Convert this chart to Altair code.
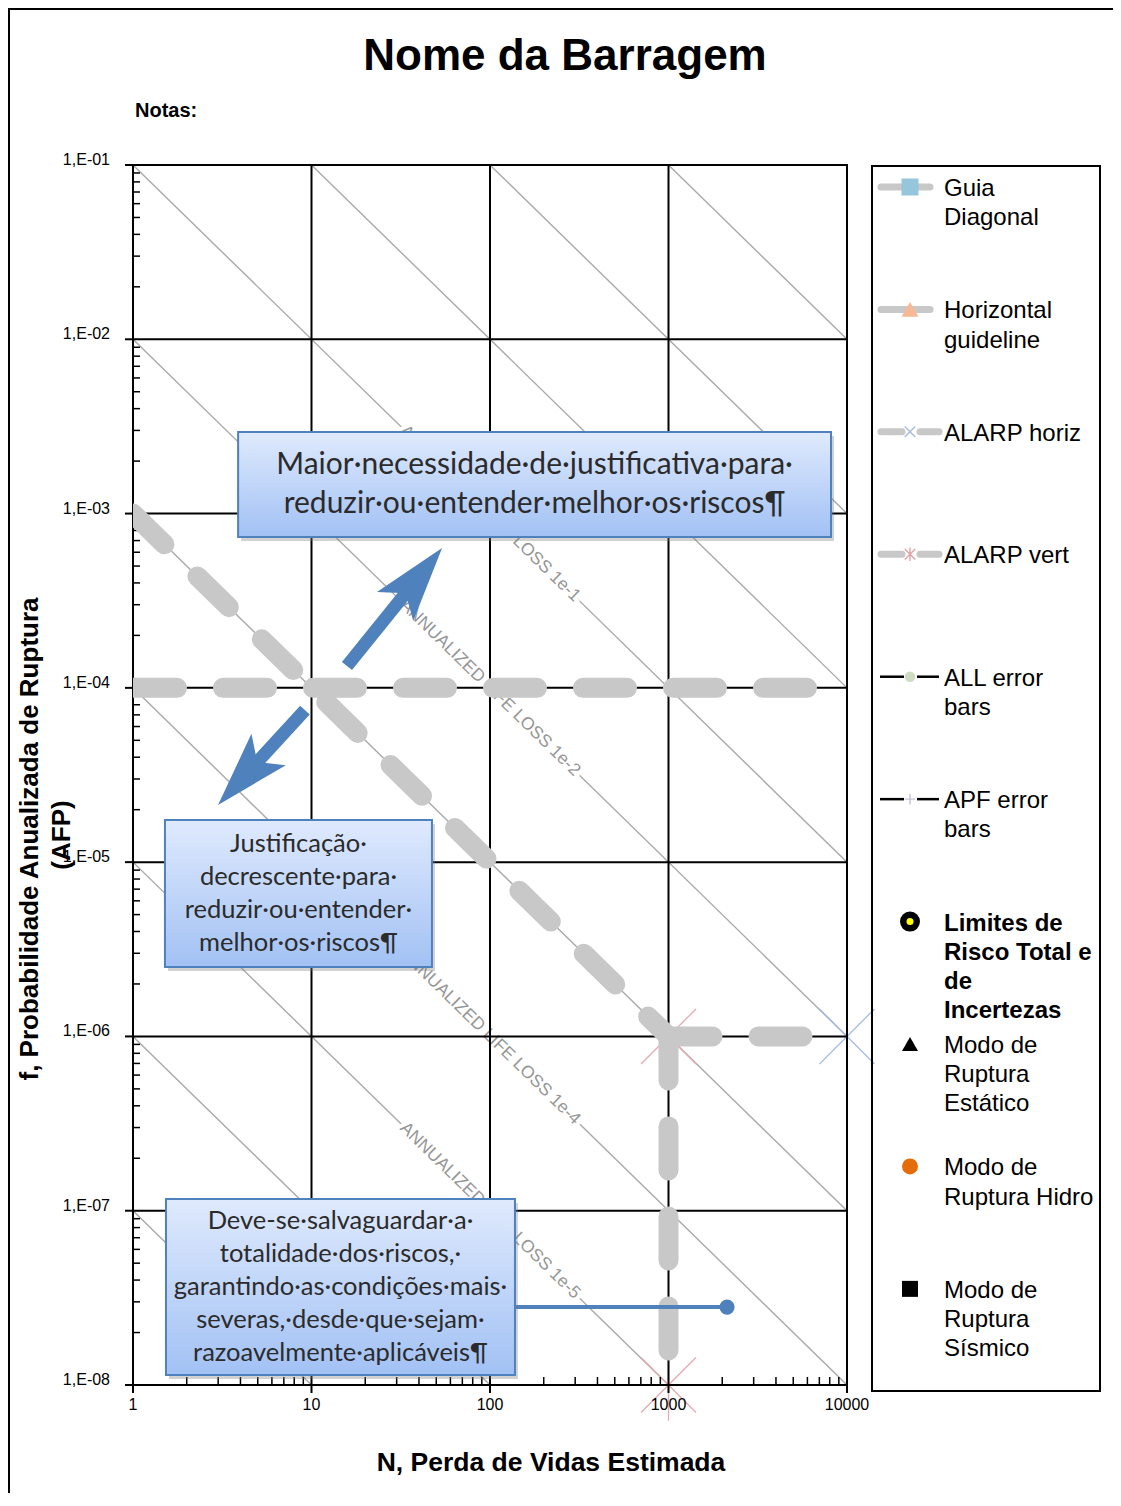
import altair as alt
import pandas as pd

W, H = 714, 1220

# ---------------- data ----------------
x_ticks = [1, 10, 100, 1000, 10000]
x_tick_labels = ["1", "10", "100", "1000", "10000"]
y_ticks = [1e-1, 1e-2, 1e-3, 1e-4, 1e-5, 1e-6, 1e-7, 1e-8]
y_tick_labels = ["1,E-01", "1,E-02", "1,E-03", "1,E-04", "1,E-05", "1,E-06", "1,E-07", "1,E-08"]
minor_mult = [2, 3, 4, 5, 6, 7, 8, 9]
x_decades = [1, 10, 100, 1000]
y_decades = [1e-8, 1e-7, 1e-6, 1e-5, 1e-4, 1e-3, 1e-2]

# iso-risk diagonals  f = C / N
diag_C = [1e2, 1e1, 1e0, 1e-1, 1e-2, 1e-3, 1e-4, 1e-5, 1e-6, 1e-7]
label_C = [1e-1, 1e-2, 1e-4, 1e-5]
label_N = [100, 100, 100, 100]
label_text = ["ANNUALIZED LIFE LOSS 1e-1", "ANNUALIZED LIFE LOSS 1e-2",
              "ANNUALIZED LIFE LOSS 1e-4", "ANNUALIZED LIFE LOSS 1e-5"]

# gray dashed guidelines (start / end)
guide_name = ["ALARP diagonal", "Horizontal guideline", "ALARP horiz", "ALARP vert"]
guide_N1 = [1, 1, 1000, 1000]
guide_f1 = [1e-3, 1e-4, 1e-6, 1e-6]
guide_N2 = [1000, 10000, 10000, 1000]
guide_f2 = [1e-6, 1e-4, 1e-6, 1e-8]

# ALARP markers
marker_N = [1000, 10000, 1000]
marker_f = [1e-6, 1e-6, 1e-8]
marker_kind = ["vert", "horiz", "vert"]

# annotation boxes
box_N1 = [3.88, 1.51, 1.53]
box_N2 = [8137, 47.3, 138]
box_f1 = [2.94e-3, 1.745e-5, 1.168e-7]
box_f2 = [7.34e-4, 2.5e-6, 1.141e-8]
box_lines = [
    ["Maior\u00b7necessidade\u00b7de\u00b7justificativa\u00b7para\u00b7",
     "reduzir\u00b7ou\u00b7entender\u00b7melhor\u00b7os\u00b7riscos\u00b6"],
    ["Justifica\u00e7\u00e3o\u00b7", "decrescente\u00b7para\u00b7",
     "reduzir\u00b7ou\u00b7entender\u00b7", "melhor\u00b7os\u00b7riscos\u00b6"],
    ["Deve-se\u00b7salvaguardar\u00b7a\u00b7", "totalidade\u00b7dos\u00b7riscos,\u00b7",
     "garantindo\u00b7as\u00b7condi\u00e7\u00f5es\u00b7mais\u00b7",
     "severas,\u00b7desde\u00b7que\u00b7sejam\u00b7", "razoavelmente\u00b7aplic\u00e1veis\u00b6"],
]
box_font = [30, 25.5, 25.5]
box_lh = [39, 33, 33]

# arrows
arrow_tail_N = [15.8, 9.19]
arrow_tail_f = [1.335e-4, 7.46e-5]
arrow_head_N = [39.8, 4.15]
arrow_head_f = [4.31e-4, 3.07e-5]
arrow_angle = [38.8, 222.4]

# connector line with dot
conn_N = [138, 2128]
conn_f = [2.8e-8, 2.8e-8]

# legend
legend_labels = [["Guia", "Diagonal"], ["Horizontal", "guideline"], ["ALARP horiz"],
                 ["ALARP vert"], ["ALL error", "bars"], ["APF error", "bars"],
                 ["Limites de", "Risco Total e", "de", "Incertezas"],
                 ["Modo de", "Ruptura", "Est\u00e1tico"], ["Modo de", "Ruptura Hidro"],
                 ["Modo de", "Ruptura", "S\u00edsmico"]]
legend_bold = [False, False, False, False, False, False, True, False, False, False]

X_PATH = "M-1,-1L1,1M-1,1L1,-1"
AST_PATH = "M-1,-1L1,1M-1,1L1,-1M0,-1.3L0,1.3"
PLUS_PATH = "M-1,0L1,0M0,-1L0,1"
ARROW_PATH = "M0,-1L0.62,1L0,0.55L-0.62,1Z"

# ---------------- helpers ----------------
xs = alt.Scale(type="log", domain=[1, 10000], nice=False)
ys = alt.Scale(type="log", domain=[1e-8, 1e-1], nice=False)


def X(f):
    return alt.X(f, type="quantitative", scale=xs, axis=None)


def Y(f):
    return alt.Y(f, type="quantitative", scale=ys, axis=None)


one = pd.DataFrame({"a": [0]})
BLUE = "#4f81bd"
GRAY = "#c8c8c8"
FONT = "Liberation Sans"

# ---------------- main plot layers ----------------
diag_df = pd.DataFrame({
    "C": diag_C,
    "N1": [max(1.0, c / 1e-1) for c in diag_C],
    "N2": [min(1e4, c / 1e-8) for c in diag_C],
})
diag_df["f1"] = diag_df["C"] / diag_df["N1"]
diag_df["f2"] = diag_df["C"] / diag_df["N2"]
diagonals = alt.Chart(diag_df).mark_rule(color="#a9a9a9", strokeWidth=1.4, clip=True).encode(
    x=X("N1"), y=Y("f1"), x2="N2", y2="f2")

lab_df = pd.DataFrame({"N": label_N, "f": [c / n for c, n in zip(label_C, label_N)], "t": label_text})
lab_halo = alt.Chart(lab_df).mark_text(angle=44.3, font=FONT, fontSize=17.5,
                                       fill="white", stroke="white", strokeWidth=8).encode(
    x=X("N"), y=Y("f"), text="t:N")
lab_txt = alt.Chart(lab_df).mark_text(angle=44.3, font=FONT, fontSize=17.5,
                                      color="#969696").encode(x=X("N"), y=Y("f"), text="t:N")

mk_df = pd.DataFrame({"N": marker_N, "f": marker_f, "kind": marker_kind})
mk_df["shape"] = mk_df["kind"].map({"vert": AST_PATH, "horiz": X_PATH})
mk_df["col"] = mk_df["kind"].map({"vert": "#e4aab0", "horiz": "#a7bce6"})
alarp_marks = alt.Chart(mk_df).mark_point(size=3025, strokeWidth=1.3, fill="transparent", opacity=1).encode(
    x=X("N"), y=Y("f"), shape=alt.Shape("shape:N", scale=None), stroke=alt.Stroke("col:N", scale=None))

xt_df = pd.DataFrame({"N": x_ticks, "lab": x_tick_labels})
yt_df = pd.DataFrame({"f": y_ticks, "lab": y_tick_labels})
vgrid = alt.Chart(xt_df).mark_rule(color="black", strokeWidth=2).encode(x=X("N"))
hgrid = alt.Chart(yt_df).mark_rule(color="black", strokeWidth=2).encode(y=Y("f"))
xmajor = alt.Chart(xt_df).mark_rule(color="black", strokeWidth=2).encode(
    x=X("N"), y=alt.value(H), y2=alt.value(H + 8))
ymajor = alt.Chart(yt_df).mark_rule(color="black", strokeWidth=2).encode(
    y=Y("f"), x=alt.value(-8), x2=alt.value(0))
xlabels = alt.Chart(xt_df).mark_text(font=FONT, fontSize=16, color="black", align="center",
                                     baseline="middle").encode(x=X("N"), y=alt.value(H + 20), text="lab:N")
ylabels = alt.Chart(yt_df).mark_text(font=FONT, fontSize=16, color="black", align="right",
                                     baseline="middle", dy=-5).encode(y=Y("f"), x=alt.value(-23), text="lab:N")

xminor = alt.Chart(pd.DataFrame({"N": [m * d for d in x_decades for m in minor_mult]})).mark_rule(
    color="black", strokeWidth=1.5).encode(x=X("N"), y=alt.value(H), y2=alt.value(H - 8))
yminor = alt.Chart(pd.DataFrame({"f": [m * d for d in y_decades for m in minor_mult]})).mark_rule(
    color="black", strokeWidth=1.5).encode(y=Y("f"), x=alt.value(0), x2=alt.value(7))

guide_df = pd.DataFrame({"name": guide_name, "N1": guide_N1, "f1": guide_f1, "N2": guide_N2, "f2": guide_f2})
guides = alt.Chart(guide_df).mark_rule(color=GRAY, strokeWidth=20, strokeCap="round",
                                       strokeDash=[44, 46], clip=True).encode(
    x=X("N1"), y=Y("f1"), x2="N2", y2="f2")

box_df = pd.DataFrame({"N1": box_N1, "N2": box_N2, "f1": box_f1, "f2": box_f2})
box_df["cx"] = (box_df["N1"] * box_df["N2"]) ** 0.5
box_df["cy"] = (box_df["f1"] * box_df["f2"]) ** 0.5
shadow = alt.Chart(box_df).mark_rect(color="#7f7f7f", opacity=0.35, xOffset=3, x2Offset=3,
                                     yOffset=4, y2Offset=4).encode(x=X("N1"), x2="N2", y=Y("f1"), y2="f2")
grad = {"gradient": "linear", "x1": 0, "x2": 0, "y1": 0, "y2": 1,
        "stops": [{"offset": 0, "color": "#dfeafd"}, {"offset": 1, "color": "#a2c1f4"}]}
boxes = alt.Chart(box_df).mark_rect(fill=grad, stroke=BLUE, strokeWidth=2).encode(
    x=X("N1"), x2="N2", y=Y("f1"), y2="f2")
box_texts = []
for i in range(len(box_lines)):
    n = len(box_lines[i])
    box_texts.append(
        alt.Chart(box_df.iloc[[i]]).mark_text(font="Lato", fontSize=box_font[i], lineHeight=box_lh[i],
                                              color="#2b2b2b", align="center", baseline="middle",
                                              dy=-(n - 1) * box_lh[i] / 2).encode(
            x=X("cx"), y=Y("cy"), text=alt.value(box_lines[i])))

arr_df = pd.DataFrame({"tN": arrow_tail_N, "tf": arrow_tail_f, "hN": arrow_head_N, "hf": arrow_head_f,
                       "ang": arrow_angle})
shafts = alt.Chart(arr_df).mark_rule(color=BLUE, strokeWidth=13, strokeCap="butt").encode(
    x=X("tN"), y=Y("tf"), x2="hN", y2="hf")
heads = alt.Chart(arr_df).mark_point(shape=ARROW_PATH, size=5625, filled=True, color=BLUE, opacity=1,
                                     strokeWidth=0).encode(
    x=X("hN"), y=Y("hf"), angle=alt.Angle("ang:Q", scale=None))

conn_df = pd.DataFrame({"N": conn_N, "f": conn_f})
conn_line = alt.Chart(conn_df).mark_line(color=BLUE, strokeWidth=4).encode(x=X("N"), y=Y("f"))
conn_dot = alt.Chart(conn_df.iloc[[1]]).mark_point(shape="circle", size=230, filled=True, color=BLUE,
                                                    opacity=1).encode(x=X("N"), y=Y("f"))

# decorations / titles (pixel positions relative to the plot area)
frame = alt.Chart(one).mark_rect(fill="transparent", stroke="black", strokeWidth=2).encode(
    x=alt.value(-124), x2=alt.value(1100), y=alt.value(-156), y2=alt.value(1500))
title = alt.Chart(one).mark_text(text="Nome da Barragem", font=FONT, fontSize=44,
                                 fontWeight="bold", color="black", align="center", baseline="middle").encode(
    x=alt.value(432), y=alt.value(-108))
notas = alt.Chart(one).mark_text(text="Notas:", font=FONT, fontSize=20, fontWeight="bold",
                                 color="black", align="left", baseline="middle").encode(
    x=alt.value(2), y=alt.value(-54))
xtitle = alt.Chart(one).mark_text(text="N, Perda de Vidas Estimada", font=FONT, fontSize=26.5,
                                  fontWeight="bold", color="black", align="center", baseline="middle").encode(
    x=alt.value(418), y=alt.value(1298))
ytitle1 = alt.Chart(one).mark_text(text="f, Probabilidade Anualizada de Ruptura", font=FONT,
                                   fontSize=26, fontWeight="bold", color="black", angle=270,
                                   align="center", baseline="middle").encode(x=alt.value(-103), y=alt.value(674))
ytitle2 = alt.Chart(one).mark_text(text="(AFP)", font=FONT, fontSize=26, fontWeight="bold",
                                   color="black", angle=270, align="center", baseline="middle").encode(
    x=alt.value(-71), y=alt.value(670))

main = alt.layer(diagonals, lab_halo, lab_txt, alarp_marks, vgrid, hgrid, xminor, yminor, xmajor, ymajor,
                 guides, shadow, boxes, *box_texts, shafts, heads, conn_line, conn_dot,
                 xlabels, ylabels, frame, title, notas, xtitle, ytitle1, ytitle2)

# ---------------- legend ----------------
STEP = 4.2
leg_scale = alt.Scale(domain=[0, 40], range=[24, 24 + 40 * 29.15])


def LY(f="slot"):
    return alt.Y(f, type="quantitative", scale=leg_scale, axis=None)


rows = []
for i, lines in enumerate(legend_labels):
    for j, t in enumerate(lines):
        rows.append({"slot": i * STEP + j, "t": t, "bold": legend_bold[i]})
leg_txt_df = pd.DataFrame(rows)
leg_text = alt.Chart(leg_txt_df[~leg_txt_df["bold"]]).mark_text(
    font=FONT, fontSize=24, color="black", align="left", baseline="middle").encode(
    x=alt.value(811), y=LY(), text="t:N")
leg_text_b = alt.Chart(leg_txt_df[leg_txt_df["bold"]]).mark_text(
    font=FONT, fontSize=24, fontWeight="bold", color="black", align="left",
    baseline="middle").encode(x=alt.value(811), y=LY(), text="t:N")

sym_slot = [i * STEP for i in range(len(legend_labels))]
leg_box = alt.Chart(one).mark_rect(fill="transparent", stroke="black", strokeWidth=2).encode(
    x=alt.value(739), x2=alt.value(967), y=alt.value(1), y2=alt.value(1226))
solid_df = pd.DataFrame({"slot": sym_slot[0:2]})
leg_solid = alt.Chart(solid_df).mark_rule(color=GRAY, strokeWidth=7, strokeCap="round", yOffset=-2).encode(
    x=alt.value(748), x2=alt.value(797), y=LY())
split_df = pd.DataFrame({"slot": sym_slot[2:4]})
leg_split_a = alt.Chart(split_df).mark_rule(color=GRAY, strokeWidth=7, strokeCap="round", yOffset=-2).encode(
    x=alt.value(748), x2=alt.value(769), y=LY())
leg_split_b = alt.Chart(split_df).mark_rule(color=GRAY, strokeWidth=7, strokeCap="round", yOffset=-2).encode(
    x=alt.value(787), x2=alt.value(806), y=LY())
blk_df = pd.DataFrame({"slot": sym_slot[4:6]})
leg_blk_a = alt.Chart(blk_df).mark_rule(color="black", strokeWidth=2.5, yOffset=-2).encode(
    x=alt.value(747), x2=alt.value(771), y=LY())
leg_blk_b = alt.Chart(blk_df).mark_rule(color="black", strokeWidth=2.5, yOffset=-2).encode(
    x=alt.value(784), x2=alt.value(806), y=LY())

sym_df = pd.DataFrame({
    "slot": [sym_slot[0], sym_slot[1], sym_slot[2], sym_slot[3], sym_slot[4], sym_slot[5],
             sym_slot[6], sym_slot[6], sym_slot[7], sym_slot[8], sym_slot[9]],
    "shape": ["square", "triangle-up", X_PATH, AST_PATH, "circle", PLUS_PATH,
              "circle", "circle", "triangle-up", "circle", "square"],
    "fill": ["#96c6dc", "#f7b896", "transparent", "transparent", "#cfdcc4", "transparent",
             "black", "#ffff00", "black", "#e46c0a", "black"],
    "stroke": ["transparent", "transparent", "#a9badf", "#e2a3a8", "transparent", "#c8bfd8",
               "transparent", "transparent", "transparent", "transparent", "transparent"],
    "size": [289, 289, 110, 110, 110, 110, 400, 49, 256, 256, 256],
})
leg_sym = alt.Chart(sym_df).mark_point(opacity=1, strokeWidth=1.4, yOffset=-2).encode(
    x=alt.value(777), y=LY(),
    shape=alt.Shape("shape:N", scale=None), fill=alt.Fill("fill:N", scale=None),
    stroke=alt.Stroke("stroke:N", scale=None), size=alt.Size("size:Q", scale=None))

legend = alt.layer(leg_box, leg_solid, leg_split_a, leg_split_b, leg_blk_a, leg_blk_b, leg_sym,
                   leg_text, leg_text_b)

chart = alt.layer(main, legend).resolve_scale(y="independent").properties(
    width=W, height=H,
    padding={"left": 125, "top": 157, "right": 266, "bottom": 108},
    autosize=alt.AutoSizeParams(type="none"),
    background="white",
).configure_view(stroke="black", strokeWidth=2)

chart.save("out.html", embed_options={"renderer": "svg", "actions": False})
